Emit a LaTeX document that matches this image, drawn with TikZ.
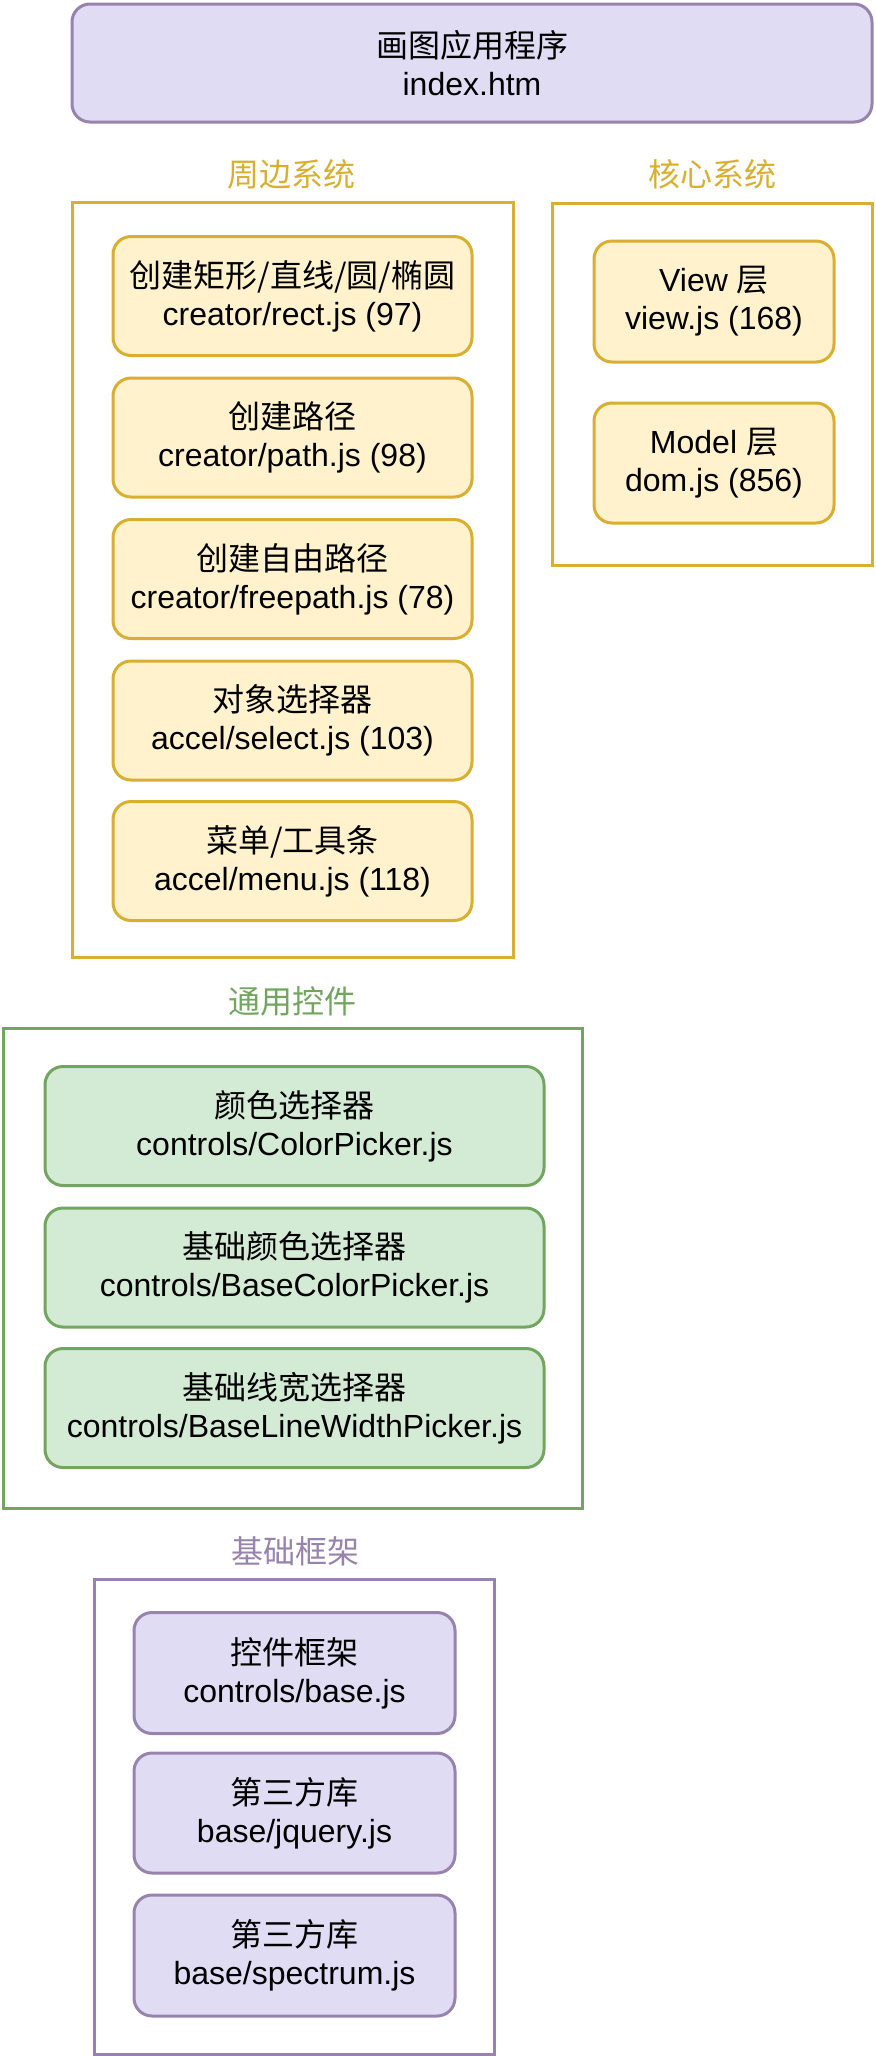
\documentclass[tikz,border=0pt]{standalone}
\usepackage{fontspec}
\setmainfont{Liberation Sans}
\newfontfamily\cjk{Noto Sans CJK SC}
\newcommand{\zh}[1]{{\cjk #1}}
\definecolor{pfill}{HTML}{DFDCF3}
\definecolor{pline}{HTML}{9783AD}
\definecolor{yfill}{HTML}{FFF2CC}
\definecolor{yline}{HTML}{D8AF30}
\definecolor{gfill}{HTML}{D3EAD4}
\definecolor{gline}{HTML}{72A65F}
\begin{document}
\begin{tikzpicture}[x=0.5pt,y=-0.5pt,
  card/.style={draw, line width=1.5pt, rounded corners=9pt, align=center, inner sep=0pt,
    font=\fontsize{16pt}{19pt}\selectfont, text=black},
  ycard/.style={card, fill=yfill, draw=yline},
  gcard/.style={card, fill=gfill, draw=gline},
  pcard/.style={card, fill=pfill, draw=pline},
  group/.style={draw, line width=1.5pt, inner sep=0pt, fill=white},
  grouplabel/.style={font=\fontsize{16pt}{19pt}\selectfont, inner sep=0pt}
]
\useasboundingbox (0,0) rectangle (876,2056);
\fill[white] (0,0) rectangle (876,2056);

% top
\node[pcard, minimum width=400pt, minimum height=59pt] (app) at (472,63)
  {\zh{画图应用程序}\\index.htm};

% peripheral
\node[grouplabel, text=yline] (lperi) at (291,174) {\zh{周边系统}};
\node[group, draw=yline, minimum width=220.5pt, minimum height=377.5pt] (peri) at (292.5,579.5) {};
\node[ycard, minimum width=179.5pt, minimum height=59.5pt] (c1) at (292.5,296)
  {\zh{创建矩形/直线/圆/椭圆}\\creator/rect.js (97)};
\node[ycard, minimum width=179.5pt, minimum height=59.5pt] (c2) at (292.5,437.5)
  {\zh{创建路径}\\creator/path.js (98)};
\node[ycard, minimum width=179.5pt, minimum height=59.5pt] (c3) at (292.5,579)
  {\zh{创建自由路径}\\creator/freepath.js (78)};
\node[ycard, minimum width=179.5pt, minimum height=59.5pt] (c4) at (292.5,720.5)
  {\zh{对象选择器}\\accel/select.js (103)};
\node[ycard, minimum width=179.5pt, minimum height=59.5pt] (c5) at (292.5,861)
  {\zh{菜单/工具条}\\accel/menu.js (118)};

% core
\node[grouplabel, text=yline] (lcore) at (712,174) {\zh{核心系统}};
\node[group, draw=yline, minimum width=160pt, minimum height=181pt] (core) at (712,384) {};
\node[ycard, minimum width=120pt, minimum height=60.5pt] (view) at (714,301.5)
  {View \zh{层}\\view.js (168)};
\node[ycard, minimum width=120pt, minimum height=60pt] (model) at (714,463)
  {Model \zh{层}\\dom.js (856)};

% controls
\node[grouplabel, text=gline] (lctl) at (292,1001) {\zh{通用控件}};
\node[group, draw=gline, minimum width=289.5pt, minimum height=240pt] (ctl) at (292.5,1268) {};
\node[gcard, minimum width=249.5pt, minimum height=59.5pt] (g1) at (294.5,1126)
  {\zh{颜色选择器}\\controls/ColorPicker.js};
\node[gcard, minimum width=249.5pt, minimum height=59.5pt] (g2) at (294.5,1267.5)
  {\zh{基础颜色选择器}\\controls/BaseColorPicker.js};
\node[gcard, minimum width=249.5pt, minimum height=59.5pt] (g3) at (294.5,1408)
  {\zh{基础线宽选择器}\\controls/BaseLineWidthPicker.js};

% base
\node[grouplabel, text=pline] (lbase) at (295,1551) {\zh{基础框架}};
\node[group, draw=pline, minimum width=200pt, minimum height=237.5pt] (base) at (294,1816.5) {};
\node[pcard, minimum width=160.5pt, minimum height=60.5pt] (b1) at (294.5,1673)
  {\zh{控件框架}\\controls/base.js};
\node[pcard, minimum width=160.5pt, minimum height=60pt] (b2) at (294.5,1813)
  {\zh{第三方库}\\base/jquery.js};
\node[pcard, minimum width=160.5pt, minimum height=60.5pt] (b3) at (294.5,1955.5)
  {\zh{第三方库}\\base/spectrum.js};
\end{tikzpicture}
\end{document}
